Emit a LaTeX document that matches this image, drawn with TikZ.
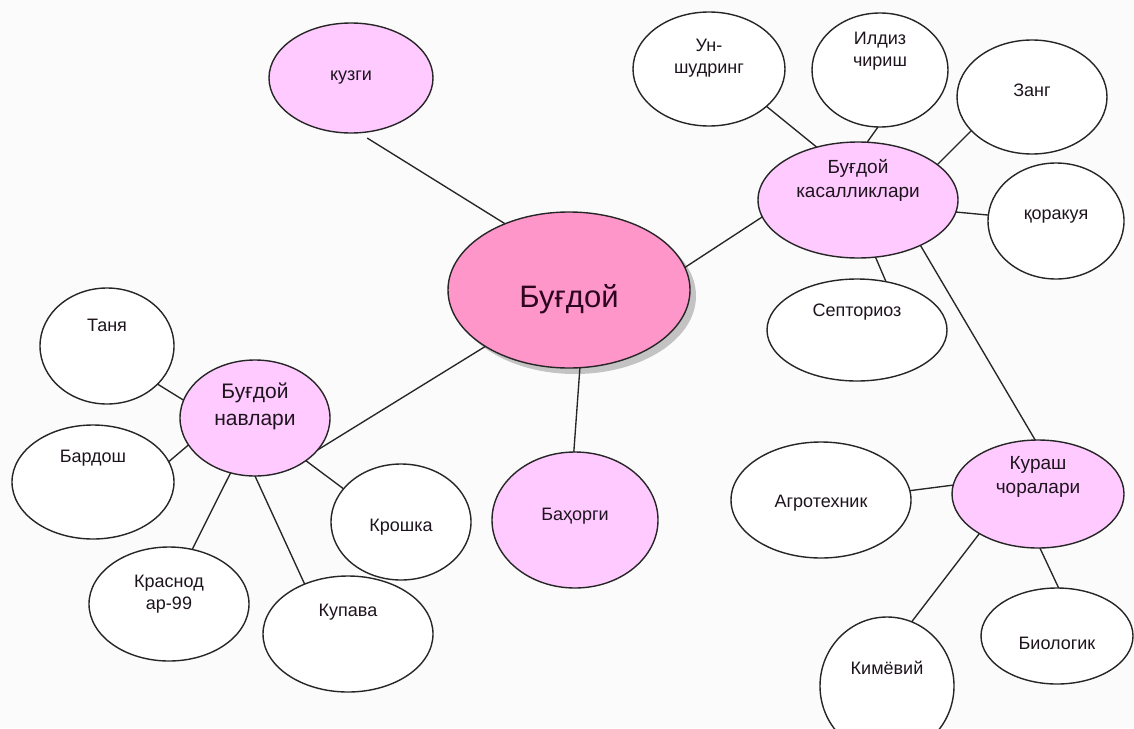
\documentclass[tikz,border=0pt]{standalone}
\usepackage{fontspec}
\setmainfont{Liberation Sans}
\usetikzlibrary{shapes.geometric,shadows}
\definecolor{bgc}{RGB}{251,251,251}
\definecolor{pinkL}{RGB}{255,202,255}
\definecolor{pinkM}{RGB}{255,150,202}
\definecolor{txtc}{RGB}{30,20,30}
\definecolor{maintxt}{RGB}{45,5,30}
\tikzset{
  ov/.style={ellipse, draw=black!85, line width=1.4pt, inner sep=0pt, outer sep=0pt, fill=white},
  pk/.style={ov, fill=pinkL},
  lbl/.style={font=\fontsize{18}{22}\selectfont, align=center, text=txtc, inner sep=0pt},
  lblm/.style={font=\fontsize{21}{27}\selectfont, align=center, text=txtc, inner sep=0pt},
  lbls/.style={font=\fontsize{19}{24}\selectfont, align=center, text=txtc, inner sep=0pt},
  lblc/.style={font=\fontsize{31}{36}\selectfont, align=center, text=maintxt, inner sep=0pt},
  conn/.style={draw=black!85, line width=1.35pt}
}
\begin{document}
\begin{tikzpicture}[x=1pt,y=-1pt]
\useasboundingbox (0,0) rectangle (1134,728);
\fill[bgc] (0,0) rectangle (1134,728);
\clip (0,0) rectangle (1134,728);

% centre
\node[ov, fill=pinkM, minimum width=242pt, minimum height=156pt,
  drop shadow={shadow xshift=6pt, shadow yshift=-6pt, fill=black, opacity=0.22},
  label={[lblc,yshift=-9pt]center:Буғдой}] (bug) at (569,290) {};

% first ring
\node[pk, minimum width=164pt, minimum height=110pt,
  label={[lbl]center:кузги}] (kuz) at (351,78) {};
\node[pk, minimum width=166pt, minimum height=136pt,
  label={[lbl,yshift=4pt]center:Баҳорги}] (bah) at (575,520) {};
\node[pk, minimum width=150pt, minimum height=116pt,
  label={[lblm,yshift=12pt]center:{Буғдой\\навлари}}] (nav) at (255,418) {};
\node[pk, minimum width=200pt, minimum height=116pt,
  label={[lbls,yshift=20pt]center:{Буғдой\\касалликлари}}] (kas) at (858,200) {};
\node[pk, minimum width=172pt, minimum height=108pt,
  label={[lbls,yshift=17pt]center:{Кураш\\чоралари}}] (kur) at (1038,494) {};

% varieties
\node[ov, minimum width=134pt, minimum height=116pt,
  label={[lbl,yshift=21pt]center:Таня}] (tan) at (107,346) {};
\node[ov, minimum width=162pt, minimum height=114pt,
  label={[lbl,yshift=24pt]center:Бардош}] (bar) at (93,482) {};
\node[ov, minimum width=160pt, minimum height=114pt,
  label={[lbl,yshift=10pt]center:{Краснод\\ар-99}}] (kra) at (169,604) {};
\node[ov, minimum width=170pt, minimum height=116pt,
  label={[lbl,yshift=22pt]center:Купава}] (kup) at (348,634) {};
\node[ov, minimum width=140pt, minimum height=116pt,
  label={[lbl,yshift=-5pt]center:Крошка}] (kro) at (401,522) {};

% diseases
\node[ov, minimum width=152pt, minimum height=114pt,
  label={[lbl,yshift=11pt]center:{Ун-\\шудринг}}] (un) at (709,69) {};
\node[ov, minimum width=136pt, minimum height=114pt,
  label={[lbl,yshift=19pt]center:{Илдиз\\чириш}}] (ild) at (880,70) {};
\node[ov, minimum width=150pt, minimum height=114pt,
  label={[lbl,yshift=7pt]center:Занг}] (zan) at (1032,97) {};
\node[ov, minimum width=136pt, minimum height=116pt,
  label={[lbl,yshift=4pt]center:қоракуя}] (qor) at (1056,221) {};
\node[ov, minimum width=180pt, minimum height=102pt,
  label={[lbl,yshift=18pt]center:Септориоз}] (sep) at (857,330) {};

% control measures
\node[ov, minimum width=180pt, minimum height=116pt,
  label={[lbl,yshift=-3pt]center:Агротехник}] (agr) at (821,500) {};
\node[ov, minimum width=134pt, minimum height=138pt,
  label={[lbl,yshift=18pt]center:Кимёвий}] (kim) at (887,686) {};
\node[ov, minimum width=152pt, minimum height=96pt,
  label={[lbl,yshift=-7pt]center:Биологик}] (bio) at (1057,636) {};

% connectors
\draw[conn, shorten <=10pt] (kuz.-82) -- (bug.134);
\draw[conn] (bug.11) -- (kas.190);
\draw[conn] (bug.214) -- (nav.-27);
\draw[conn] (bug.-82) -- (bah.91);
\draw[conn] (tan.-37) -- (nav.166);
\draw[conn] (bar.15) -- (nav.202);
\draw[conn] (kra.67) -- (nav.246);
\draw[conn] (kup.131) -- (nav.270);
\draw[conn] (kro.150) -- (nav.-40);
\draw[conn] (un.-33) -- (kas.128);
\draw[conn] (ild.-92) -- (kas.81);
\draw[conn] (zan.209) -- (kas.24);
\draw[conn] (qor.175) -- (kas.-7);
\draw[conn] (sep.59) -- (kas.-73);
\draw[conn] (kas.-36) -- (kur.93);
\draw[conn] (agr.6) -- (kur.174);
\draw[conn] (kur.214) -- (kim.69);
\draw[conn] (kur.-88) -- (bio.88);
\end{tikzpicture}
\end{document}
